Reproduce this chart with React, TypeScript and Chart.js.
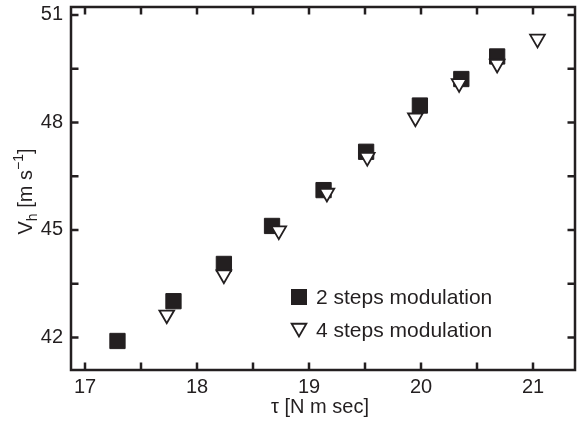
import React, { useEffect, useRef } from 'react';
import { Chart, registerables } from 'chart.js';

Chart.register(...registerables);

// ---- data ----
const xTickValues = [17, 18, 19, 20, 21];
const yTickValues = [42, 45, 48, 51];
const xMinorTicks = [17, 17.5, 18, 18.5, 19, 19.5, 20, 20.5, 21];
const yMinorTicks = [42, 43.5, 45, 46.5, 48, 49.5, 51];

const tau2Steps = [17.29, 17.79, 18.24, 18.67, 19.13, 19.51, 19.99, 20.36, 20.68];
const vh2Steps = [41.9, 43.01, 44.05, 45.11, 46.11, 47.18, 48.47, 49.21, 49.84];

const tau4Steps = [17.73, 18.24, 18.73, 19.16, 19.52, 19.95, 20.34, 20.68, 21.04];
const vh4Steps = [42.63, 43.75, 44.98, 46.03, 47.03, 48.13, 49.09, 49.63, 50.33];

const seriesLabels = ['2 steps modulation', '4 steps modulation'];
const xTitle = 'τ [N m sec]';
const yTitleMain = 'V';
const yTitleSub = 'h';
const yTitleMid = ' [m s';
const yTitleSup = '−1';
const yTitleEnd = ']';

const INK = '#231f20';
const FONT_FAMILY = '"Liberation Sans", Arial, Helvetica, sans-serif';

const decorPlugin = {
  id: 'decor',
  afterDatasetsDraw(chart: any) {
    const ctx = chart.ctx as CanvasRenderingContext2D;
    const { left, right, top, bottom } = chart.chartArea;
    const xs = chart.scales.x;
    const ys = chart.scales.y;
    ctx.save();
    ctx.strokeStyle = INK;
    ctx.lineWidth = 2.5;
    ctx.lineCap = 'butt';
    // frame
    ctx.strokeRect(left, top, right - left, bottom - top);
    // inward ticks
    const tl = 7.5;
    ctx.beginPath();
    xMinorTicks.forEach((v) => {
      const px = xs.getPixelForValue(v);
      ctx.moveTo(px, bottom);
      ctx.lineTo(px, bottom - tl);
      ctx.moveTo(px, top);
      ctx.lineTo(px, top + tl);
    });
    yMinorTicks.forEach((v) => {
      const py = ys.getPixelForValue(v);
      ctx.moveTo(left, py);
      ctx.lineTo(left + tl, py);
      ctx.moveTo(right, py);
      ctx.lineTo(right - tl, py);
    });
    ctx.stroke();

    // x title
    ctx.fillStyle = INK;
    ctx.font = `20px ${FONT_FAMILY}`;
    ctx.textAlign = 'center';
    ctx.textBaseline = 'middle';
    ctx.fillText(xTitle, (left + right) / 2 - 3, 407);

    // y title (rotated, with subscript and superscript)
    ctx.save();
    const cy = (top + bottom) / 2 + 3;
    ctx.translate(32, cy);
    ctx.rotate(-Math.PI / 2);
    ctx.textAlign = 'left';
    ctx.textBaseline = 'alphabetic';
    const big = `20px ${FONT_FAMILY}`;
    const small = `14px ${FONT_FAMILY}`;
    ctx.font = big;
    const wV = ctx.measureText(yTitleMain).width;
    const wMid = ctx.measureText(yTitleMid).width;
    const wEnd = ctx.measureText(yTitleEnd).width;
    ctx.font = small;
    const wSub = ctx.measureText(yTitleSub).width;
    const wSup = ctx.measureText(yTitleSup).width;
    const total = wV + wSub + wMid + wSup + wEnd;
    let x = -total / 2;
    ctx.font = big;
    ctx.fillText(yTitleMain, x, 0);
    x += wV;
    ctx.font = small;
    ctx.fillText(yTitleSub, x, 5);
    x += wSub;
    ctx.font = big;
    ctx.fillText(yTitleMid, x, 0);
    x += wMid;
    ctx.font = small;
    ctx.fillText(yTitleSup, x, -9);
    x += wSup;
    ctx.font = big;
    ctx.fillText(yTitleEnd, x, 0);
    ctx.restore();

    // legend inside plot
    const mx = left + 228;
    const row1 = bottom - 73;
    const row2 = bottom - 40;
    ctx.fillStyle = INK;
    ctx.fillRect(mx - 8, row1 - 8, 16, 16);
    // down triangle
    const r = 8.5;
    ctx.beginPath();
    const tcy = row2 - 2;
    ctx.moveTo(mx, tcy + r);
    ctx.lineTo(mx - r * Math.sin(Math.PI / 3), tcy - r / 2);
    ctx.lineTo(mx + r * Math.sin(Math.PI / 3), tcy - r / 2);
    ctx.closePath();
    ctx.fillStyle = '#ffffff';
    ctx.fill();
    ctx.lineWidth = 1.8;
    ctx.strokeStyle = INK;
    ctx.stroke();

    ctx.fillStyle = INK;
    ctx.font = `21px ${FONT_FAMILY}`;
    ctx.textAlign = 'left';
    ctx.textBaseline = 'middle';
    ctx.fillText(seriesLabels[0], mx + 17, row1 + 1);
    ctx.fillText(seriesLabels[1], mx + 17, row2 + 1);
    ctx.restore();
  },
};

export default function App() {
  const canvasRef = useRef<HTMLCanvasElement | null>(null);

  useEffect(() => {
    document.body.style.margin = '0';
    const canvas = canvasRef.current;
    if (!canvas) return;
    const chart = new Chart(canvas, {
      type: 'scatter',
      data: {
        datasets: [
          {
            label: seriesLabels[0],
            data: tau2Steps.map((t, i) => ({ x: t, y: vh2Steps[i] })),
            pointStyle: 'rect',
            pointRadius: 10.8,
            pointBackgroundColor: INK,
            pointBorderColor: INK,
            pointBorderWidth: 1,
            order: 1,
          },
          {
            label: seriesLabels[1],
            data: tau4Steps.map((t, i) => ({ x: t, y: vh4Steps[i] })),
            pointStyle: 'triangle',
            pointRotation: 180,
            pointRadius: 8.5,
            pointBackgroundColor: '#ffffff',
            pointBorderColor: INK,
            pointBorderWidth: 1.8,
            order: 0,
          },
        ],
      },
      options: {
        animation: false,
        responsive: false,
        layout: { autoPadding: false, padding: { top: 7, right: 5, left: 0, bottom: 0 } },
        plugins: {
          legend: { display: false },
          tooltip: { enabled: false },
        },
        scales: {
          x: {
            type: 'linear',
            min: 16.875,
            max: 21.375,
            afterBuildTicks: (s: any) => {
              s.ticks = xTickValues.map((v) => ({ value: v }));
            },
            afterFit: (s: any) => {
              s.height = 56;
              s.paddingLeft = 0;
              s.paddingRight = 0;
            },
            grid: { display: false, drawTicks: false },
            border: { display: false },
            ticks: {
              color: INK,
              padding: 5,
              maxRotation: 0,
              font: { size: 20, family: FONT_FAMILY },
            },
          },
          y: {
            type: 'linear',
            min: 41.09,
            max: 51.22,
            afterBuildTicks: (s: any) => {
              s.ticks = yTickValues.map((v) => ({ value: v }));
            },
            afterFit: (s: any) => {
              s.width = 71;
              s.paddingTop = 0;
              s.paddingBottom = 0;
            },
            grid: { display: false, drawTicks: false },
            border: { display: false },
            ticks: {
              color: INK,
              padding: 8,
              font: { size: 20, family: FONT_FAMILY },
            },
          },
        },
      },
      plugins: [decorPlugin],
    } as any);
    return () => chart.destroy();
  }, []);

  return (
    <canvas
      ref={canvasRef}
      width={580}
      height={426}
      style={{ display: 'block', width: 580, height: 426 }}
    />
  );
}
